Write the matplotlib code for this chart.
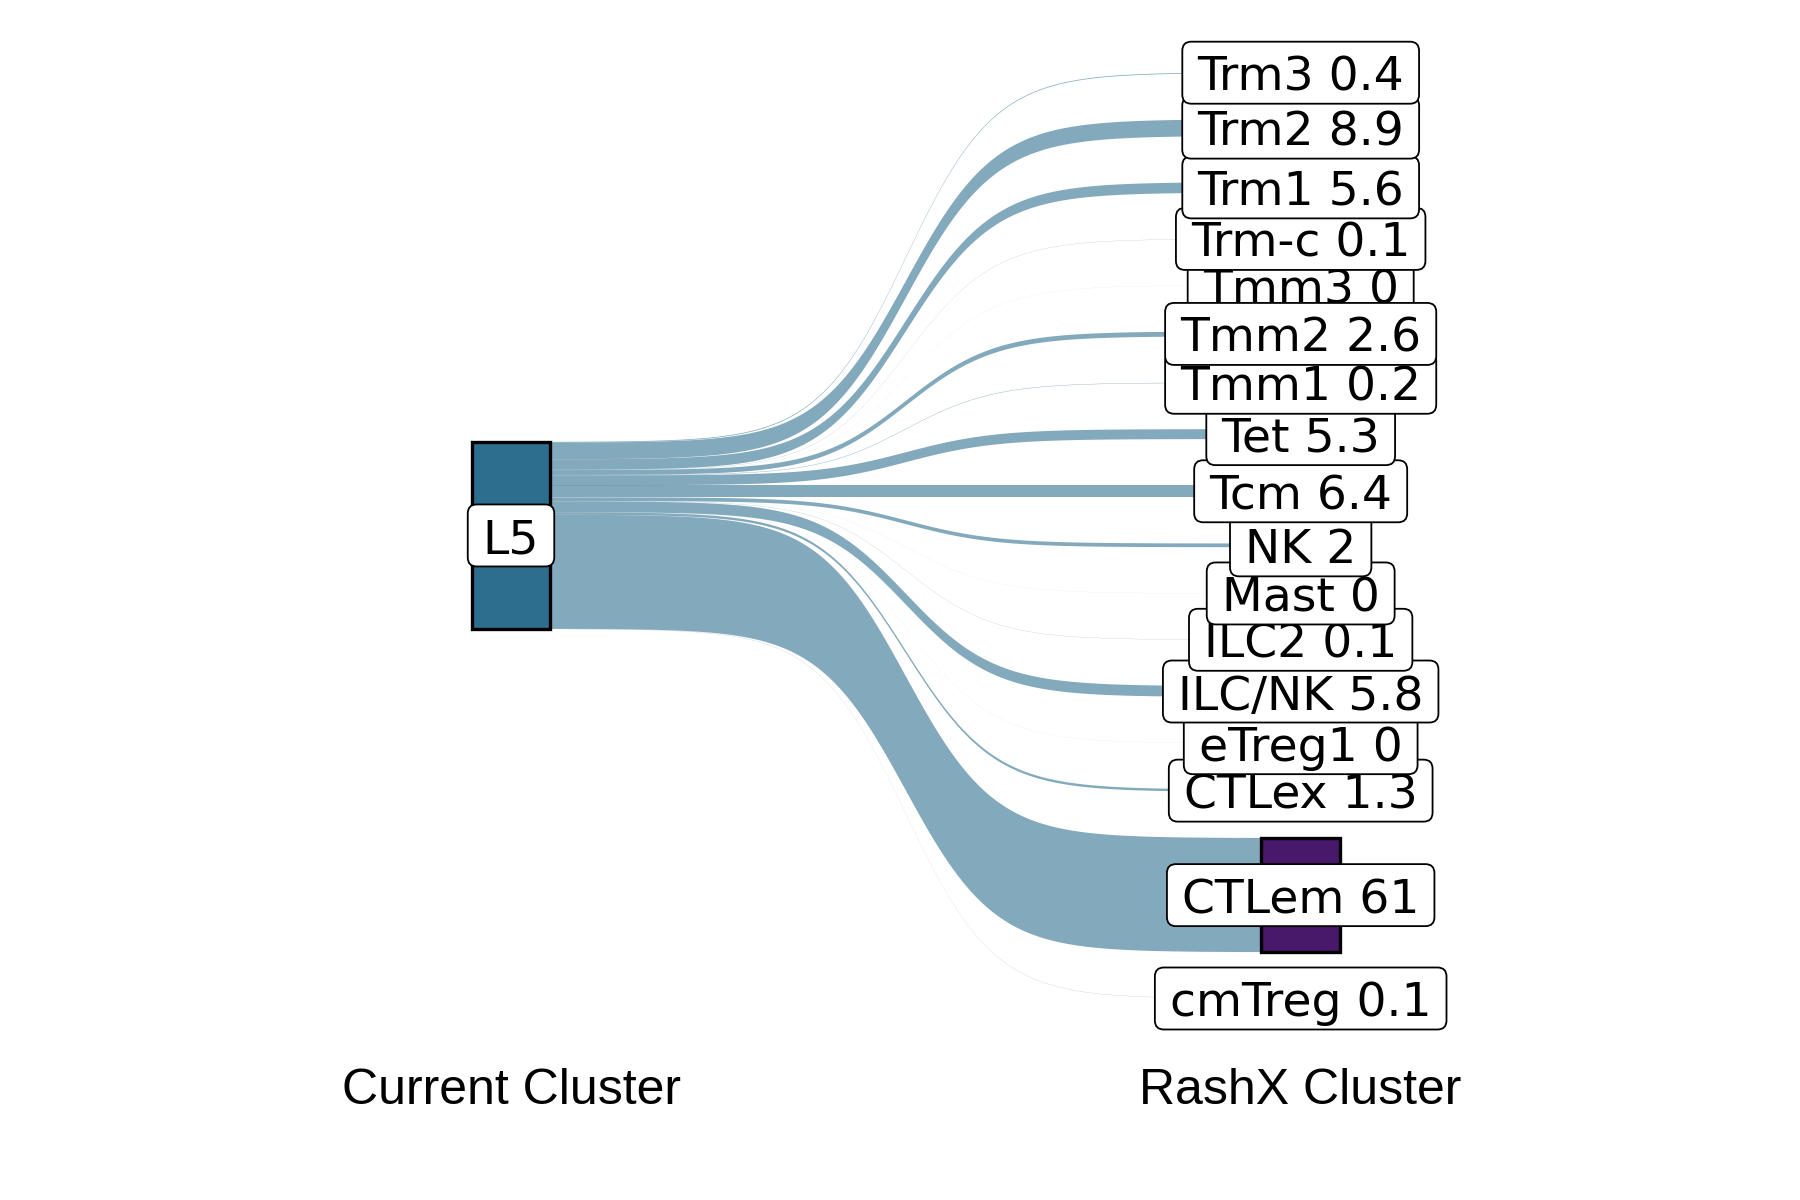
import numpy as np
import matplotlib
matplotlib.use("Agg")
import matplotlib.pyplot as plt
from matplotlib.patches import Rectangle, FancyBboxPatch, Polygon
from matplotlib.transforms import IdentityTransform, offset_copy

# ---------------- data ----------------
source_cluster = "L5"
target_clusters = ["Trm3", "Trm2", "Trm1", "Trm-c", "Tmm3", "Tmm2", "Tmm1", "Tet",
                   "Tcm", "NK", "Mast", "ILC2", "ILC/NK", "eTreg1", "CTLex",
                   "CTLem", "cmTreg"]
target_pct = [0.4, 8.9, 5.6, 0.1, 0.03, 2.6, 0.2, 5.3,
              6.4, 2.0, 0.03, 0.1, 5.8, 0.03, 1.3,
              61.0, 0.1]
axis_labels = ["Current Cluster", "RashX Cluster"]

# ---------------- style ----------------
SRC_COLOR = "#2D6D8E"
TGT_COLORS = plt.get_cmap("viridis")(np.linspace(0, 1, 18))
CTLEM_COLOR = "#48186A"
FLOW_ALPHA = 0.59
NODE_W = 0.1
GAP = 24.7
SMOOTH = 8

fig = plt.figure(figsize=(18, 12), dpi=100)
ax = fig.add_axes([0, 0, 1, 1])
ax.set_xlim(0.3529, 2.6323)
ax.set_ylim(-355.2, 286.2)
ax.axis("off")

vals = np.array(target_pct, dtype=float)
n = len(vals)
tot_left = vals.sum()
tot_right = vals.sum() + GAP * (n - 1)

# left stacking
left_top = tot_left / 2 - np.concatenate([[0], np.cumsum(vals)[:-1]])
left_bot = left_top - vals
# right stacking
right_top = tot_right / 2 - np.concatenate([[0], np.cumsum(vals)[:-1]]) - GAP * np.arange(n)
right_bot = right_top - vals

# flows
t = np.linspace(-SMOOTH, SMOOTH, 300)
s = 1 / (1 + np.exp(-t))
x0, x1 = 1 + NODE_W / 2, 2 - NODE_W / 2
xs = x0 + (t + SMOOTH) / (2 * SMOOTH) * (x1 - x0)
for i in range(n):
    yt = left_top[i] + s * (right_top[i] - left_top[i])
    yb = left_bot[i] + s * (right_bot[i] - left_bot[i])
    pts = np.column_stack([np.concatenate([xs, xs[::-1]]),
                           np.concatenate([yt, yb[::-1]])])
    ax.add_patch(Polygon(pts, closed=True, facecolor=SRC_COLOR, alpha=FLOW_ALPHA,
                         edgecolor="none", lw=0, zorder=1))

# nodes
ax.add_patch(Rectangle((1 - NODE_W / 2, -tot_left / 2), NODE_W, tot_left,
                       facecolor=SRC_COLOR, edgecolor="black", lw=2.4, zorder=3))
for i in range(n):
    col = CTLEM_COLOR if target_clusters[i] == "CTLem" else TGT_COLORS[i + 1]
    ax.add_patch(Rectangle((2 - NODE_W / 2, right_bot[i]), NODE_W, vals[i],
                           facecolor=col, edgecolor="black", lw=2.4, zorder=3))

# labels
def fmt(v):
    r = round(v, 1)
    return f"{r:g}"

labels = [(1, 0.0, source_cluster, 100)]
for i in range(n):
    z = 10 + 2 * (n - i)
    if target_clusters[i] == "Tmm3":
        z = 10 + 2 * (n - i - 1) - 1
    labels.append((2, (right_top[i] + right_bot[i]) / 2,
                   f"{target_clusters[i]} {fmt(vals[i])}", z))

text_tr = offset_copy(ax.transData, fig=fig, x=0, y=-5.5, units="dots")
texts = []
for x, y, lab, z in labels:
    tx = ax.text(x, y, lab, ha="center", va="center", fontsize=34,
                 family="DejaVu Sans", color="black", zorder=z + 1,
                 transform=text_tr)
    texts.append((tx, x, y, z))

fig.canvas.draw()
renderer = fig.canvas.get_renderer()
BOX_H = 62
PADX = 15
for tx, x, y, z in texts:
    bb = tx.get_window_extent(renderer)
    cx, cy = ax.transData.transform((x, y))
    w = bb.width + 2 * PADX
    box = FancyBboxPatch((cx - w / 2, cy - BOX_H / 2), w, BOX_H,
                         boxstyle="round,pad=0,rounding_size=9",
                         facecolor="white", edgecolor="black", lw=1.3,
                         transform=IdentityTransform(), zorder=z)
    ax.add_patch(box)

# axis labels
for xi, lab in zip([1, 2], axis_labels):
    ax.text(xi, -297.2, lab, ha="center", va="center", fontsize=36,
            family="Liberation Sans", color="black")

fig.savefig("out.png", dpi=100, facecolor="white")
